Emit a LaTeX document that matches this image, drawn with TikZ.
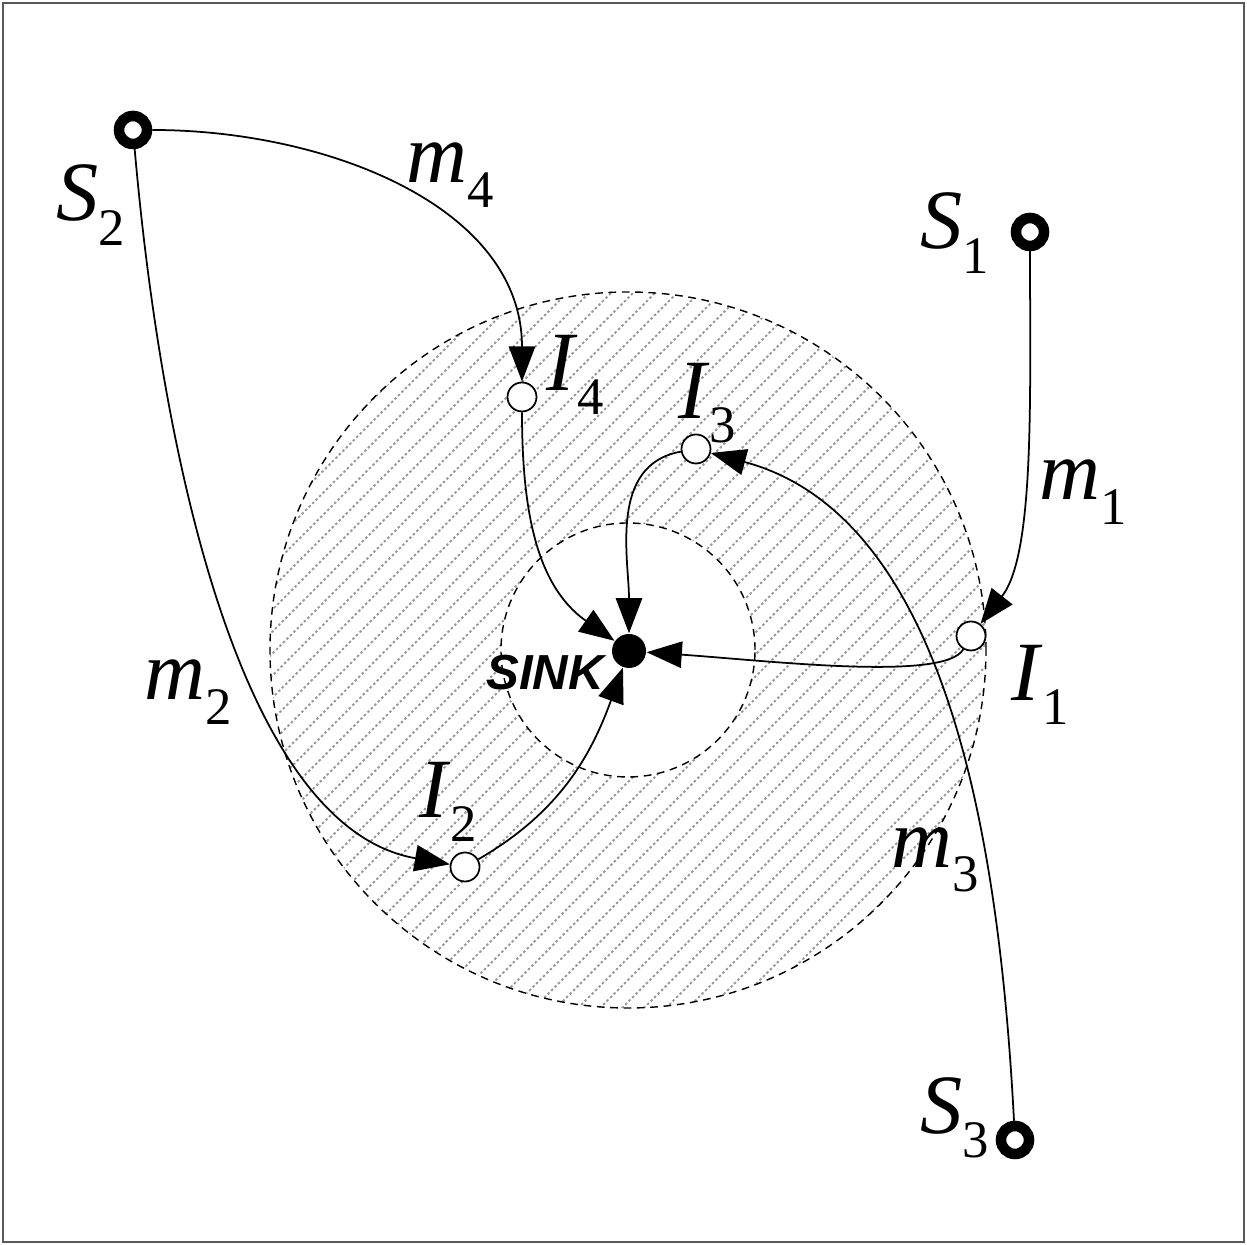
\documentclass[tikz,border=0pt]{standalone}
\usepackage{fontspec}
\setmainfont{Liberation Serif}
\newfontfamily\sinkfont{Liberation Sans}
\usetikzlibrary{arrows.meta, calc}

% italic letter with a lowered upright index
\newcommand{\lab}[2]{\textit{#1}\raisebox{-7pt}{\fontsize{15}{15}\selectfont #2}}

\tikzset{
    src/.style={circle, draw, line width=3pt, inner sep=0pt, minimum size=0.28cm},
    relay/.style={circle, draw, fill=white, line width=0.5pt, inner sep=0pt, minimum size=0.29cm},
    sinkdot/.style={circle, fill=black, inner sep=0pt, minimum size=0.34cm},
    link/.style={line width=0.5pt, -{Triangle[length=10pt,width=7.5pt]}},
    zone/.style={dash pattern=on 2.2pt off 1.6pt, line width=0.4pt},
    hatch/.style={gray!80, line width=0.55pt, dash pattern=on 0.7pt off 0.7pt},
    lbl/.style={font=\fontsize{24}{24}\selectfont, inner sep=0pt},
    frame/.style={draw=gray!70!black, line width=0.6pt}
}

\begin{document}
\begin{tikzpicture}
    \useasboundingbox (0,0) rectangle (12.47,12.45);
    \draw[frame] (0.03,0.03) rectangle (12.44,12.42);

    % Ring around the sink
    \coordinate (C) at (6.28, 5.95);
    \begin{scope}
        \clip (C) circle[radius=3.58];
        \foreach \c in {-7.26,-7.04,...,7.3} {
            \draw[hatch] ($(C)+(\c-4,-4)$) -- ($(C)+(\c+4,4)$);
        }
    \end{scope}
    \fill[white] (C) circle[radius=1.27];
    \draw[zone] (C) circle[radius=3.58];
    \draw[zone] (C) circle[radius=1.27];

    % Sources, relays and sink
    \node[src] (s1) at (10.30, 10.13) {};
    \node[src] (s2) at (1.33, 11.15) {};
    \node[src] (s3) at (10.15, 1.05) {};
    \node[relay] (i1) at (9.71, 6.09) {};
    \node[relay] (i2) at (4.65, 3.78) {};
    \node[relay] (i3) at (6.96, 7.96) {};
    \node[relay] (i4) at (5.22, 8.48) {};
    \node[sinkdot] (sink) at (6.29, 5.94) {};

    % Routes
    \draw[link] (s1) to[out=-90, in=52, in looseness=0.6] (i1);
    \draw[link] (i1) to[out=240, in=-4, out looseness=0.3] (sink);
    \draw[link] (s3) to[out=93, in=-15, in looseness=0.85] (i3);
    \draw[link] (i3) to[out=190, in=90] (sink);
    \draw[link] (s2) to[out=0, in=90] (i4);
    \draw[link] (i4) to[out=-90, in=145] (sink);
    \draw[link] (s2) to[out=-85, in=170, in looseness=0.7] (i2);
    \draw[link] (i2) to[out=30, in=250] (sink);

    % Labels
    \node[lbl] (ls1) at (9.55, 10.12) {\lab{S}{1}};
    \node[lbl] (ls2) at (0.91, 10.40) {\lab{S}{2}};
    \node[lbl] (ls3) at (9.55, 1.27) {\lab{S}{3}};
    \node[lbl] (lm1) at (10.83, 7.53) {\lab{m}{1}};
    \node[lbl] (lm2) at (1.88, 5.53) {\lab{m}{2}};
    \node[lbl] (lm3) at (9.35, 3.85) {\lab{m}{3}};
    \node[lbl] (lm4) at (4.50, 10.70) {\lab{m}{4}};
    \node[lbl] (li1) at (10.40, 5.60) {\lab{I}{1}};
    \node[lbl] (li2) at (4.48, 4.43) {\lab{I}{2}};
    \node[lbl] (li3) at (7.07, 8.42) {\lab{I}{3}};
    \node[lbl] (li4) at (5.75, 8.70) {\lab{I}{4}};
    \node[font=\sinkfont\bfseries\itshape\fontsize{14}{14}\selectfont, inner sep=0pt] (lsink) at (5.45, 5.72) {SINK};
\end{tikzpicture}
\end{document}
